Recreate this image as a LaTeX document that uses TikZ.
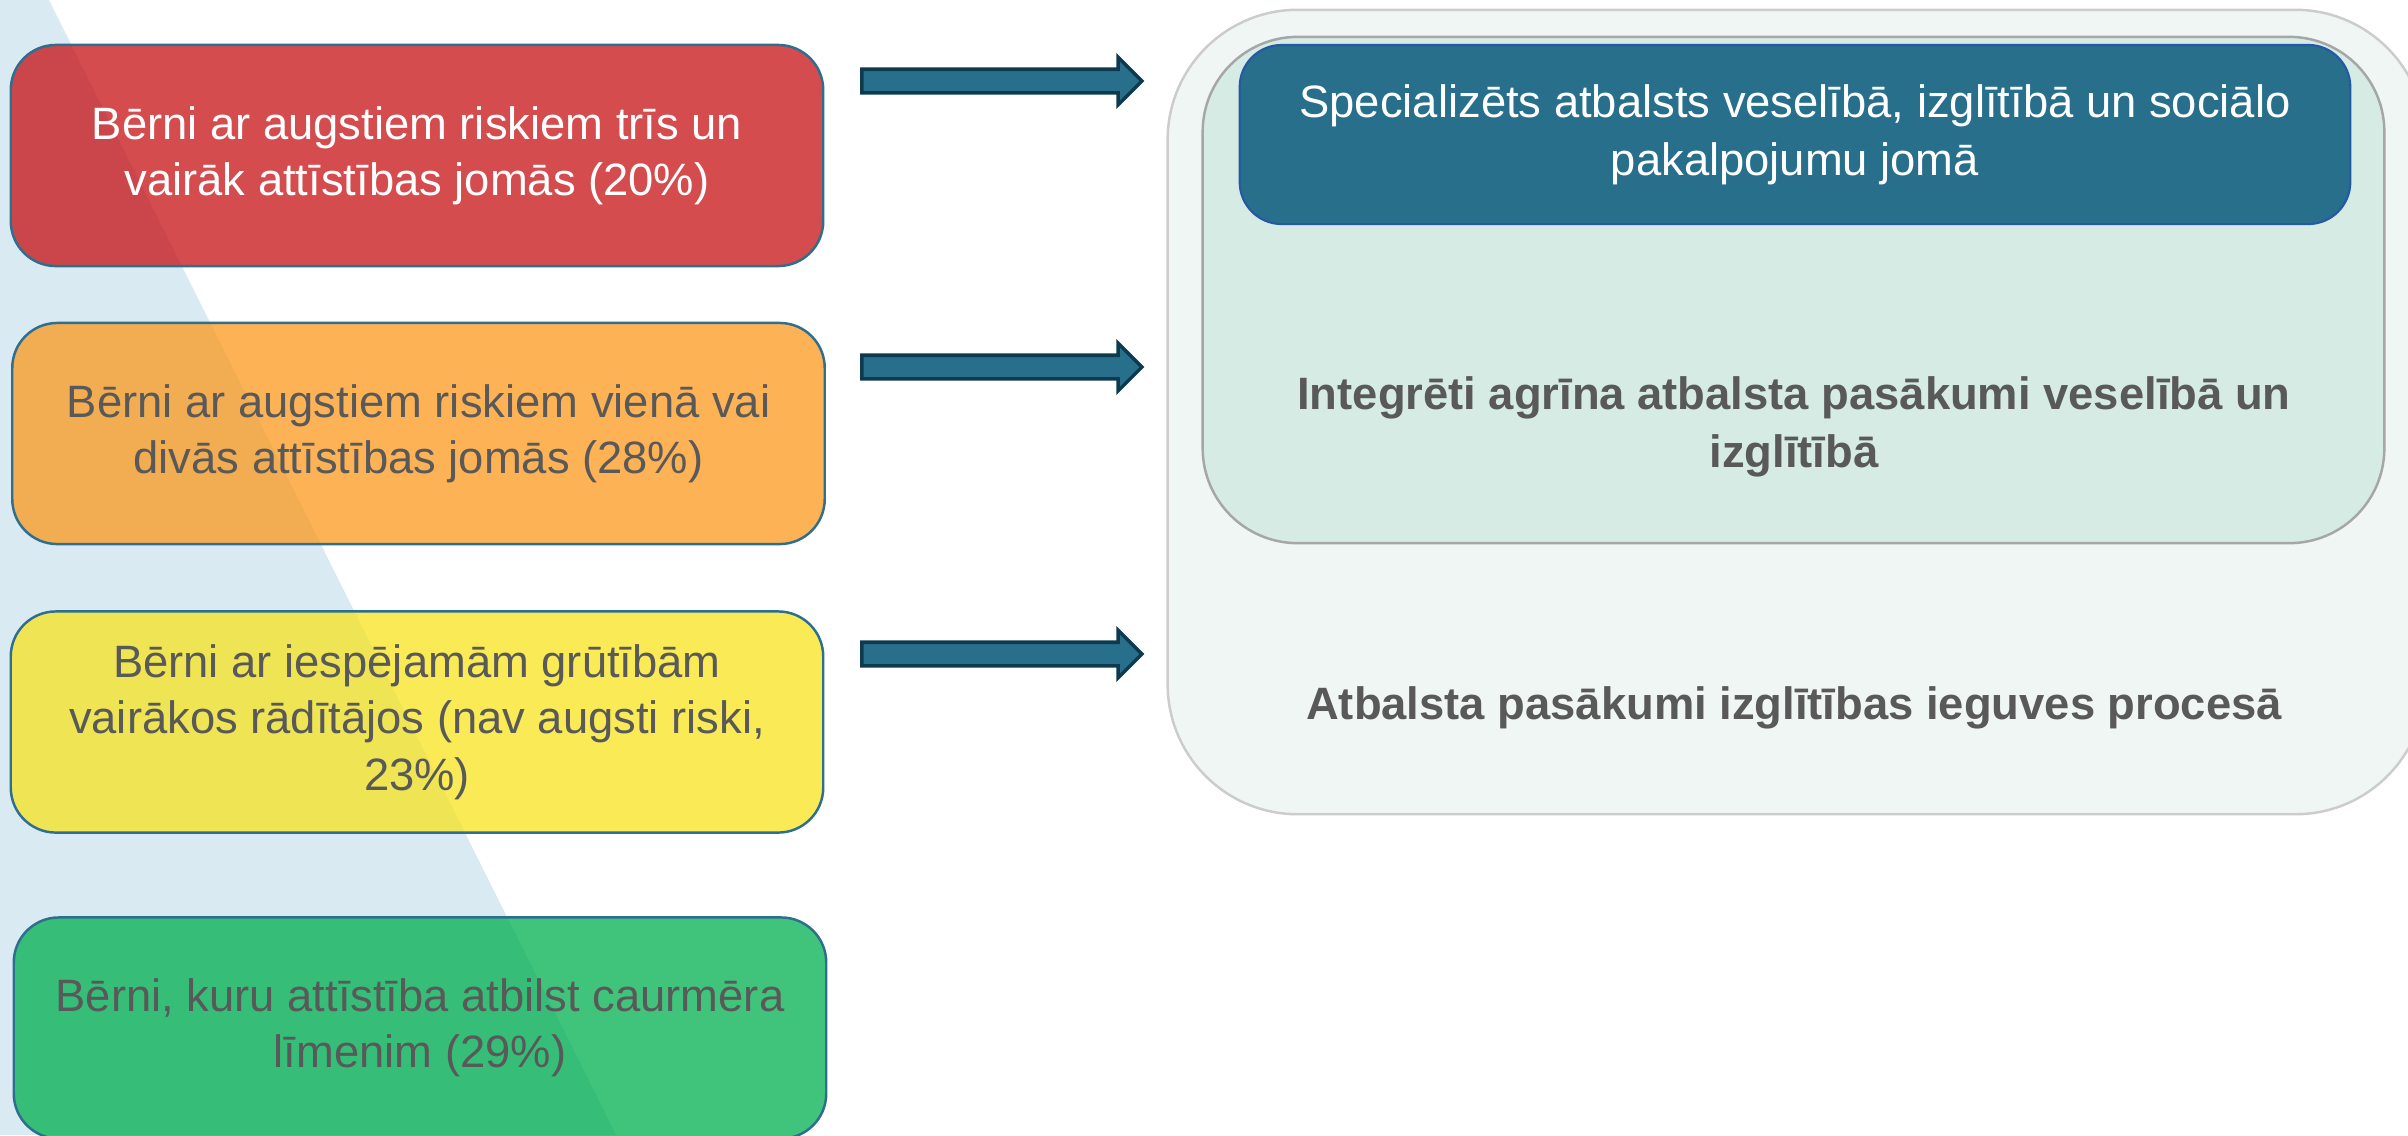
\documentclass[tikz,border=0pt]{standalone}
\usepackage{fontspec}
\setmainfont{Liberation Sans}
\usepackage{xcolor}
\usepackage{tikz}
\usetikzlibrary{shapes,arrows,positioning,calc}
\definecolor{riskred}{HTML}{C61013}
\definecolor{riskorange}{HTML}{FB981C}
\definecolor{riskyellow}{HTML}{F7E31E}
\definecolor{riskgreen}{HTML}{00B050}
\definecolor{panelblue}{HTML}{DAEAF2}
\definecolor{boxedge}{HTML}{2E6E8E}
\definecolor{arrowteal}{HTML}{286F8C}
\definecolor{arrowedge}{HTML}{0E3A50}
\definecolor{textgray}{HTML}{595959}
\definecolor{midfill}{HTML}{D6EBE4}
\definecolor{outerfill}{HTML}{F0F6F4}

\begin{document}
\begin{tikzpicture}[x=0.01cm, y=-0.01cm,
        group/.style={draw=boxedge, line width=0.7pt, rounded corners=0.45cm,
            fill opacity=0.75, text opacity=1, minimum width=8.12cm, minimum height=2.21cm,
            inner sep=0pt, align=center, font=\fontsize{12.9}{16}\selectfont},
        blockarrow/.style={single arrow, draw=arrowedge, fill=arrowteal, line width=1pt,
            minimum height=2.8cm, inner xsep=0pt, inner ysep=0.1cm,
            single arrow head extend=0.12cm, single arrow tip angle=90},
        bigtext/.style={align=center, text=textgray, inner sep=0pt,
            font=\fontsize{12.9}{16.5}\selectfont\bfseries}]
        \useasboundingbox (0,0) rectangle (2408,1135);

        % Background band
        \fill[panelblue] (0,0) -- (49,0) -- (616,1135) -- (0,1135) -- cycle;

        % Child groups
        \node[group, fill=riskred, text=white] (high3) at (417,155.5)
            {Bērni ar augstiem riskiem trīs un\\vairāk attīstības jomās (20\%)};
        \node[group, fill=riskorange, text=textgray] (high12) at (418.5,433.5)
            {Bērni ar augstiem riskiem vienā vai\\divās attīstības jomās (28\%)};
        \node[group, fill=riskyellow, text=textgray] (possible) at (417,722)
            {Bērni ar iespējamām grūtībām\\vairākos rādītājos (nav augsti riski,\\23\%)};
        \node[group, fill=riskgreen, text=textgray] (average) at (420,1028)
            {Bērni, kuru attīstība atbilst caurmēra\\līmenim (29\%)};

        % Arrows
        \node[blockarrow] (arr1) at (996,81) {};
        \node[blockarrow] (arr2) at (996,367) {};
        \node[blockarrow] (arr3) at (996,654) {};

        % Support levels
        \node[draw=black!20, line width=0.7pt, fill=outerfill, rounded corners=1.3cm,
            minimum width=12.57cm, minimum height=8.04cm] (school) at (1796.5,412) {};
        \node[draw=black!35, line width=0.7pt, fill=midfill, rounded corners=0.95cm,
            minimum width=11.81cm, minimum height=5.06cm] (early) at (1793.5,290) {};
        \node[draw=boxedge!80!blue, line width=0.6pt, fill=arrowteal, rounded corners=0.42cm,
            minimum width=11.10cm, minimum height=1.79cm, text=white, align=center,
            font=\fontsize{12.9}{16.5}\selectfont] (special) at (1795,134.5)
            {Specializēts atbalsts veselībā, izglītībā un sociālo\\pakalpojumu jomā};
        \node[bigtext] (earlytext) at (1794,427)
            {Integrēti agrīna atbalsta pasākumi veselībā un\\izglītībā};
        \node[bigtext] (schooltext) at (1794,708)
            {Atbalsta pasākumi izglītības ieguves procesā};
\end{tikzpicture}
\end{document}
